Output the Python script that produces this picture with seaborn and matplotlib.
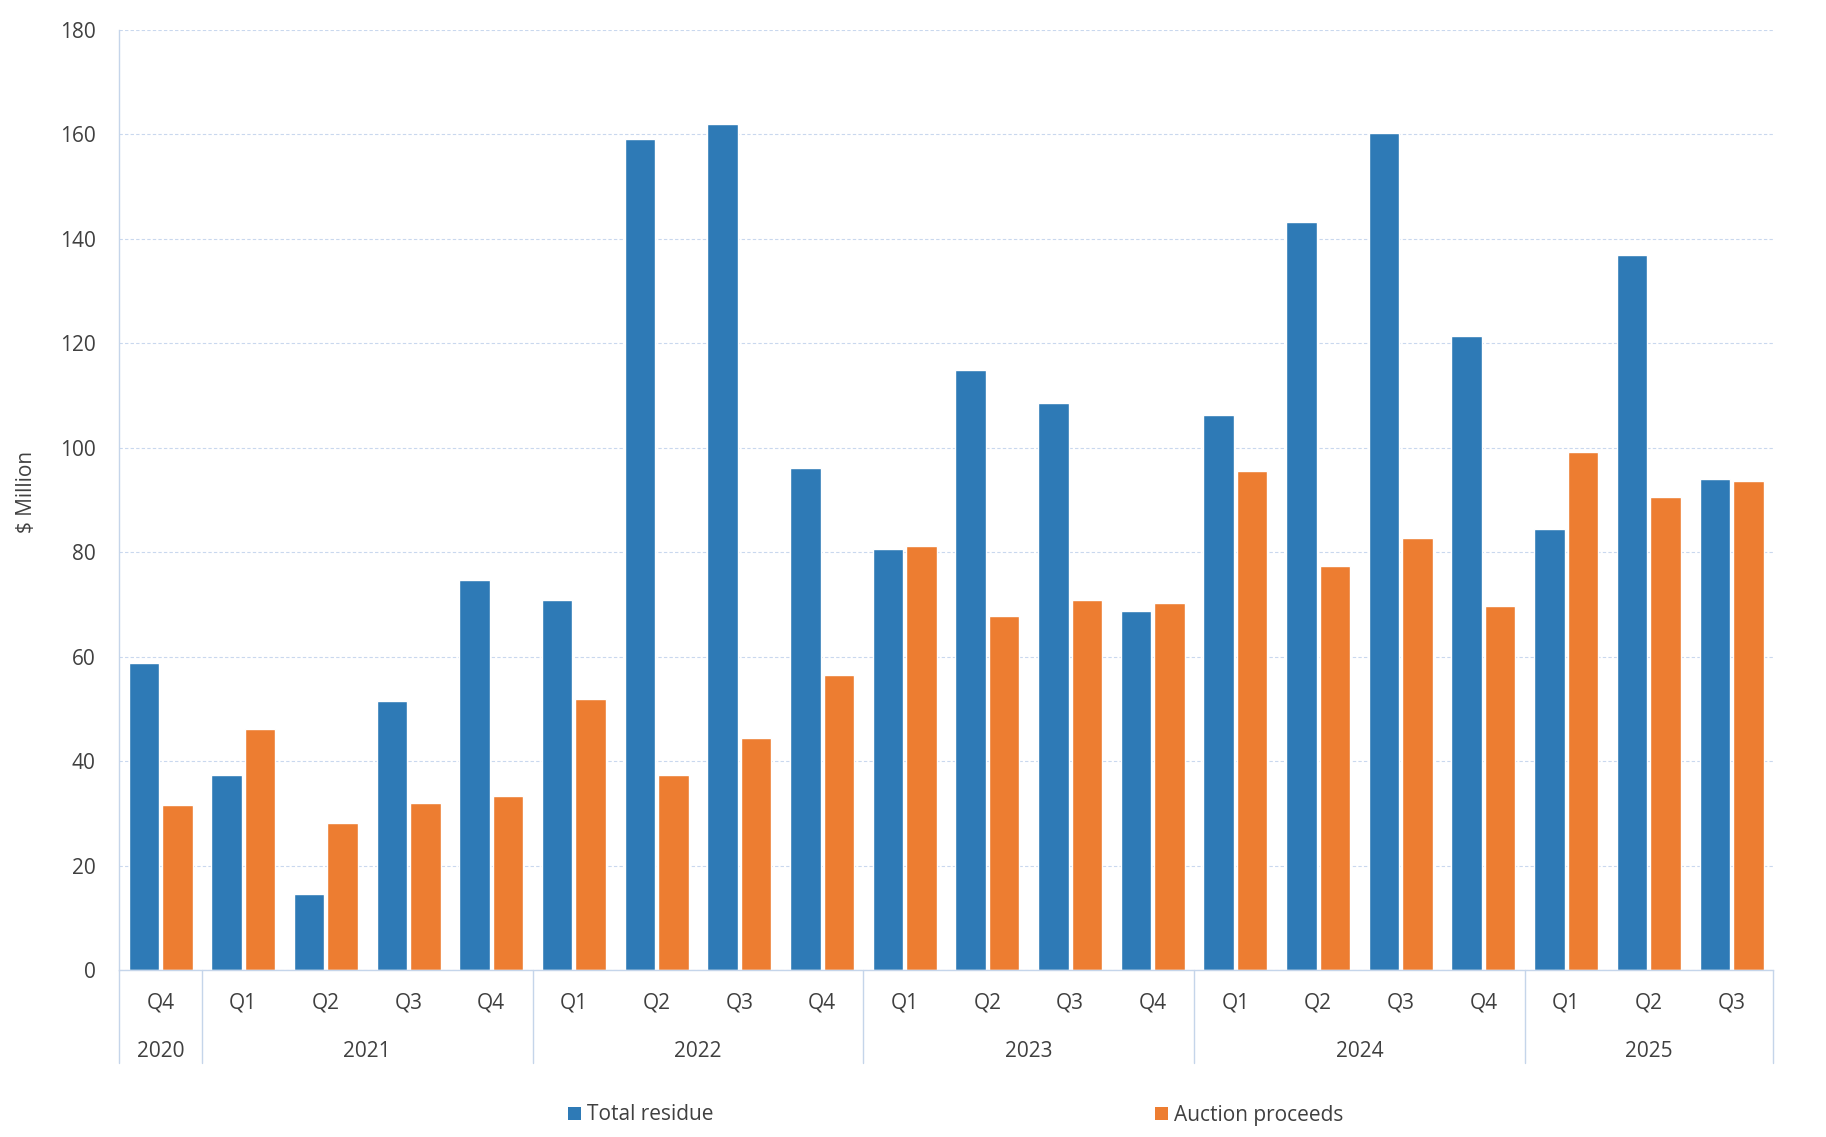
import numpy as np
import pandas as pd
import matplotlib.pyplot as plt
import matplotlib.transforms as mtransforms
from matplotlib.patches import Patch
import seaborn as sns

# data ($ million)
periods = ["2020 Q4",
           "2021 Q1", "2021 Q2", "2021 Q3", "2021 Q4",
           "2022 Q1", "2022 Q2", "2022 Q3", "2022 Q4",
           "2023 Q1", "2023 Q2", "2023 Q3", "2023 Q4",
           "2024 Q1", "2024 Q2", "2024 Q3", "2024 Q4",
           "2025 Q1", "2025 Q2", "2025 Q3"]
quarters = [p.split(" ")[1] for p in periods]
total_residue = [58.7, 37.3, 14.5, 51.6, 74.6, 70.9, 159.1, 162.0, 96.2, 80.7,
                 114.9, 108.6, 68.8, 106.2, 143.3, 160.2, 121.5, 84.5, 137.0, 94.1]
auction_proceeds = [31.6, 46.1, 28.1, 31.9, 33.3, 51.9, 37.3, 44.5, 56.4, 81.2,
                    67.8, 70.9, 70.3, 95.6, 77.4, 82.8, 69.7, 99.1, 90.6, 93.6]
year_groups = ["2020", "2021", "2022", "2023", "2024", "2025"]
year_counts = [1, 4, 4, 4, 4, 3]
series_names = ["Total residue", "Auction proceeds"]

blue = "#2E7AB6"
orange = "#ED7D31"
grid_col = "#C9D8EE"
text_col = "#404040"

df = pd.DataFrame({"period": periods * 2,
                   "value": total_residue + auction_proceeds,
                   "series": [series_names[0]] * len(periods) + [series_names[1]] * len(periods)})

sns.set_theme(style="white")
plt.rcParams['font.family'] = ['Open Sans', 'DejaVu Sans']
fs = 15

fig = plt.figure(figsize=(18.26, 11.37), dpi=100)
ax = fig.add_axes([0.0653, 0.1469, 0.9056, 0.8267])

sns.barplot(data=df, x="period", y="value", hue="series", order=periods,
            hue_order=series_names, palette=[blue, orange], saturation=1,
            width=0.81, gap=0.09, legend=False, ax=ax)

ax.set_xlim(-0.5, len(periods) - 0.5)
ax.set_ylim(0, 180)
ax.set_yticks(range(0, 181, 20))
ax.set_xticks(range(len(periods)))
ax.set_xticklabels(quarters)
ax.set_xlabel("")
ax.set_ylabel("")
ax.yaxis.grid(True, color=grid_col, linestyle=(0, (3, 2)), linewidth=0.8)
ax.xaxis.grid(False)
ax.set_axisbelow(True)
for s in ["top", "right"]:
    ax.spines[s].set_visible(False)
for s in ["left", "bottom"]:
    ax.spines[s].set_color("#C5D5EA")
    ax.spines[s].set_linewidth(1)
ax.tick_params(axis="y", length=0, pad=17, labelsize=fs, labelcolor=text_col)
ax.tick_params(axis="x", length=0, pad=16.5, labelsize=fs, labelcolor=text_col)

# year group labels and separators under the quarter labels
trans = mtransforms.blended_transform_factory(ax.transData, ax.transAxes)
edges = np.concatenate([[0], np.cumsum(year_counts)]) - 0.5
for x in edges:
    ax.plot([x, x], [0, -0.099], transform=trans, color="#C5D5EA", lw=1, clip_on=False)
for yr, a, b in zip(year_groups, edges[:-1], edges[1:]):
    ax.text((a + b) / 2, -0.087, yr, transform=trans, ha="center", va="center",
            fontsize=fs, color=text_col)

fig.text(27 / 1826, 1 - 492 / 1137, "$ Million", rotation=90, ha="center", va="center",
         fontsize=fs, color=text_col)

# legend entries sit far apart, so place them separately
for name, col, xpos in zip(series_names, [blue, orange], [568, 1155]):
    fig.legend(handles=[Patch(facecolor=col, edgecolor="none")], labels=[name],
               loc="center left", bbox_to_anchor=(xpos / 1826, 1 - 1115 / 1137),
               frameon=False, fontsize=fs, handlelength=0.6, handleheight=0.6,
               handletextpad=0.3, borderpad=0, borderaxespad=0, labelcolor=text_col)

fig.savefig("out.png", dpi=100)
